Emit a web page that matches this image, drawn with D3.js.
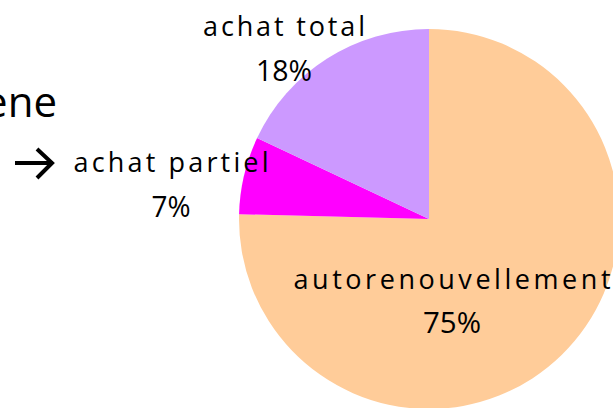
<!DOCTYPE html>
<html>
<head>
<meta charset="utf-8">
<script src="https://cdn.jsdelivr.net/npm/d3@7"></script>
<style>
  html, body { margin: 0; padding: 0; background: #fff; overflow: hidden; }
</style>
</head>
<body>
<script>
const categories = ["autorenouvellement", "achat partiel", "achat total"];
const shares = [75.4, 6.6, 18.0];
const pctLabels = ["75%", "7%", "18%"];
const colors = ["#FFCC99", "#FF00FF", "#CC99FF"];

const width = 613;
const height = 408;
const cx = 429;
const cy = 219;
const radius = 190;

// label offsets from the pie centre (name line, then percent line)
const labelPos = [
  { x: 23, name: 70, pct: 114, len: 317 },
  { x: -258, name: -47, pct: -2, len: 195 },
  { x: -145, name: -183, pct: -138, len: 162 }
];
const pctLen = [58, 39, 56];

const svg = d3.select("body")
  .append("svg")
  .attr("width", width)
  .attr("height", height)
  .style("font-family", "'Open Sans', 'Liberation Sans', sans-serif");

const pie = d3.pie()
  .sort(null)
  .value(d => d);

const arc = d3.arc()
  .innerRadius(0)
  .outerRadius(radius);

const g = svg.append("g")
  .attr("transform", `translate(${cx}, ${cy})`);

g.selectAll("path.slice")
  .data(pie(shares))
  .enter()
  .append("path")
  .attr("class", "slice")
  .attr("d", arc)
  .attr("fill", (d, i) => colors[i]);

const labels = g.selectAll("g.label")
  .data(categories)
  .enter()
  .append("g")
  .attr("class", "label");

labels.append("text")
  .attr("x", (d, i) => labelPos[i].x)
  .attr("y", (d, i) => labelPos[i].name)
  .attr("text-anchor", "middle")
  .attr("textLength", (d, i) => labelPos[i].len)
  .attr("lengthAdjust", "spacing")
  .style("font-size", "27px")
  .style("fill", "#000")
  .text(d => d);

labels.append("text")
  .attr("x", (d, i) => labelPos[i].x)
  .attr("y", (d, i) => labelPos[i].pct)
  .attr("text-anchor", "middle")
  .attr("textLength", (d, i) => pctLen[i])
  .attr("lengthAdjust", "spacingAndGlyphs")
  .style("font-size", "29px")
  .style("fill", "#000")
  .text((d, i) => pctLabels[i]);

// cut-off slide text on the left
svg.append("text")
  .attr("x", 57)
  .attr("y", 117)
  .attr("text-anchor", "end")
  .style("font-size", "42px")
  .style("fill", "#000")
  .text("ene");

// arrow pointing at the small slice label
svg.append("path")
  .attr("d", "M15,163 L51,163 M37,149 L52,163 L37,178")
  .attr("fill", "none")
  .attr("stroke", "#000")
  .attr("stroke-width", 4);
</script>
</body>
</html>
